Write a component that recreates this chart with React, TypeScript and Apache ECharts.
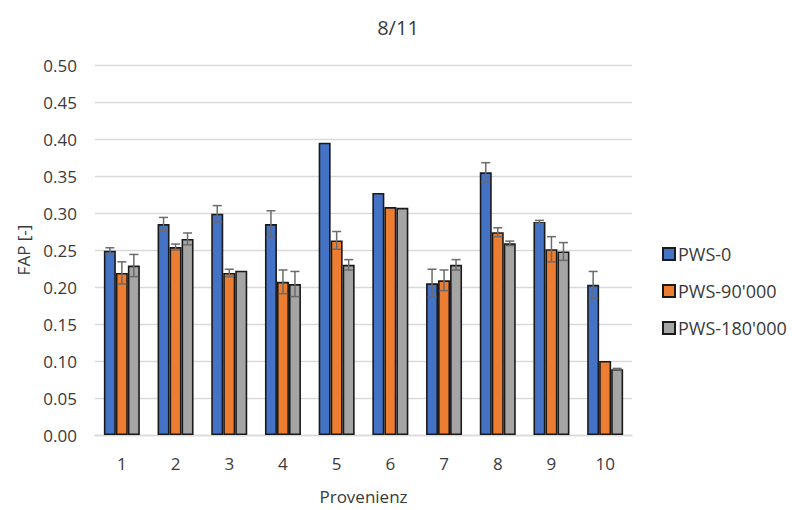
import React, { useEffect, useRef } from "react";
import * as echarts from "echarts";

const title = "8/11";
const categories = ["1", "2", "3", "4", "5", "6", "7", "8", "9", "10"];
const seriesNames = ["PWS-0", "PWS-90'000", "PWS-180'000"];
const pws0 = [0.249, 0.285, 0.299, 0.285, 0.395, 0.327, 0.205, 0.355, 0.288, 0.203];
const pws90 = [0.219, 0.254, 0.219, 0.207, 0.263, 0.308, 0.209, 0.274, 0.251, 0.1];
const pws180 = [0.229, 0.265, 0.222, 0.204, 0.23, 0.307, 0.23, 0.259, 0.248, 0.089];
const err0 = [0.004, 0.009, 0.011, 0.018, 0, 0, 0.019, 0.013, 0.002, 0.018];
const err90 = [0.015, 0.004, 0.005, 0.016, 0.012, 0, 0.014, 0.006, 0.017, 0];
const err180 = [0.015, 0.008, 0, 0.017, 0.007, 0, 0.007, 0.003, 0.012, 0.001];
const colors = ["#4472C4", "#ED7D31", "#A5A5A5"];

const BAR_W = 12;
const FONT = "'Open Sans', sans-serif";
const TXT = "#3a3a3a";

export default function App() {
  const ref = useRef<HTMLDivElement>(null);
  useEffect(() => {
    if (!ref.current) return;
    const chart = echarts.init(ref.current, undefined, { renderer: "svg" });
    const values = [pws0, pws90, pws180];
    const errs = [err0, err90, err180];
    const barSeries = values.map((v, i) => ({
      type: "bar",
      name: seriesNames[i],
      data: v,
      barWidth: BAR_W,
      barGap: "0%",
      itemStyle: { color: colors[i], borderColor: "#1a1a1a", borderWidth: 1.6 },
    }));
    const errData: number[][] = [];
    errs.forEach((e, s) => {
      e.forEach((d, c) => {
        if (d > 0) errData.push([c, values[s][c], d, s]);
      });
    });
    const errSeries = {
      type: "custom",
      name: "err",
      data: errData,
      z: 10,
      renderItem: (params: any, api: any) => {
        const c = api.value(0);
        const v = api.value(1);
        const e = api.value(2);
        const s = api.value(3);
        const top = api.coord([c, v + e]);
        const bot = api.coord([c, v - e]);
        const x = top[0] + (s - 1) * BAR_W;
        const cap = 4.5;
        const st = { stroke: "#6b6b6b", lineWidth: 1.5 };
        return {
          type: "group",
          children: [
            { type: "line", shape: { x1: x, y1: top[1], x2: x, y2: bot[1] }, style: st },
            { type: "line", shape: { x1: x - cap, y1: top[1], x2: x + cap, y2: top[1] }, style: st },
            { type: "line", shape: { x1: x - cap, y1: bot[1], x2: x + cap, y2: bot[1] }, style: st },
          ],
        };
      },
    };
    chart.setOption({
      animation: false,
      title: {
        text: title,
        left: 393,
        top: 12,
        textAlign: "center",
        textStyle: { fontFamily: FONT, fontSize: 20, fontWeight: "normal", color: TXT },
      },
      legend: {
        data: seriesNames,
        orient: "vertical",
        left: 657,
        top: 240,
        itemWidth: 12,
        itemHeight: 12,
        itemGap: 19,
        icon: "rect",
        textStyle: { fontFamily: FONT, fontSize: 18, lineHeight: 18, color: TXT, padding: [0, 0, 0, -2] },
      },
      grid: { left: 95, right: 160, top: 65, bottom: 67 },
      xAxis: {
        type: "category",
        data: categories,
        name: "Provenienz",
        nameLocation: "middle",
        nameGap: 53,
        nameTextStyle: { fontFamily: FONT, fontSize: 17, color: TXT },
        axisLine: { lineStyle: { color: "#d9d9d9", width: 1.3 } },
        axisTick: { show: false },
        axisLabel: { fontFamily: FONT, fontSize: 17, color: TXT, margin: 20 },
      },
      yAxis: {
        type: "value",
        min: 0,
        max: 0.5,
        interval: 0.05,
        name: "FAP [-]",
        nameLocation: "middle",
        nameGap: 61,
        nameRotate: 90,
        nameTextStyle: { fontFamily: FONT, fontSize: 17, color: TXT },
        axisLine: { show: false },
        axisTick: { show: false },
        splitLine: { lineStyle: { color: "#d9d9d9", width: 1.3 } },
        axisLabel: {
          fontFamily: FONT,
          fontSize: 17,
          color: TXT,
          margin: 18,
          formatter: (v: number) => v.toFixed(2),
        },
      },
      series: [...barSeries, errSeries],
    });
    return () => chart.dispose();
  }, []);
  return (
    <div
      ref={ref}
      style={{ position: "absolute", left: 0, top: 0, width: 792, height: 510 }}
    />
  );
}
